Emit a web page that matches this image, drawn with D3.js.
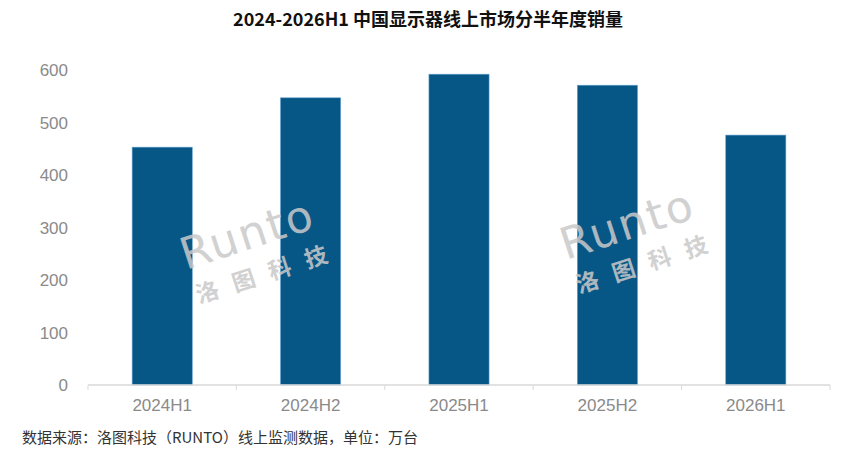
<!DOCTYPE html>
<html>
<head>
<meta charset="utf-8">
<script src="https://cdn.jsdelivr.net/npm/d3@7"></script>
<style>
  body { margin: 0; background: #fff; }
</style>
</head>
<body>
<div id="chart"></div>
<script>
// chart values
const categories = ["2024H1", "2024H2", "2025H1", "2025H2", "2026H1"];
const sales = [453, 547, 592, 571, 476];
const yTicks = [0, 100, 200, 300, 400, 500, 600];
const title = "2024-2026H1 中国显示器线上市场分半年度销量";
const source = "数据来源：洛图科技（RUNTO）线上监测数据，单位：万台";

const W = 851, H = 472;
const plot = { left: 88, right: 830, top: 70, bottom: 385 };

const svg = d3.select("#chart")
    .append("svg")
    .attr("width", W)
    .attr("height", H);

// scales
const x = d3.scaleBand()
    .domain(categories)
    .range([plot.left, plot.right])
    .paddingInner(0.595)
    .paddingOuter(0.2975);

const y = d3.scaleLinear()
    .domain([0, 600])
    .range([plot.bottom, plot.top]);

// title
svg.append("text")
    .attr("x", 428)
    .attr("y", 26)
    .attr("text-anchor", "middle")
    .style("font-family", "'Noto Sans CJK SC', 'Noto Sans', sans-serif")
    .style("font-weight", "bold")
    .style("font-size", "18px")
    .style("fill", "#111")
    .text(title);

// y labels (no axis line, no grid)
svg.append("g")
    .selectAll("text")
    .data(yTicks)
    .join("text")
    .attr("x", 68)
    .attr("y", d => y(d))
    .attr("dy", "0.36em")
    .attr("text-anchor", "end")
    .style("font-family", "'Liberation Sans', Arial, sans-serif")
    .style("font-size", "17px")
    .style("fill", "#8a8a8a")
    .text(d => d);

// bars
svg.append("g")
    .selectAll("rect")
    .data(sales)
    .join("rect")
    .attr("x", (d, i) => x(categories[i]))
    .attr("y", d => y(d))
    .attr("width", x.bandwidth())
    .attr("height", d => y(0) - y(d))
    .style("fill", "#065686")
    .style("stroke", "#5f9fcf")
    .style("stroke-width", 0.6);

// x axis: line plus ticks between categories
const xAxis = svg.append("g")
    .attr("transform", `translate(0, ${plot.bottom})`);

xAxis.append("line")
    .attr("x1", plot.left)
    .attr("x2", plot.right)
    .style("stroke", "#d9d9d9")
    .style("stroke-width", 1.5);

const bounds = d3.range(categories.length + 1).map(i => plot.left + i * x.step());
xAxis.selectAll(".tick")
    .data(bounds)
    .join("line")
    .attr("class", "tick")
    .attr("x1", d => d)
    .attr("x2", d => d)
    .attr("y1", 0)
    .attr("y2", 5)
    .style("stroke", "#d9d9d9")
    .style("stroke-width", 1);

xAxis.selectAll(".lbl")
    .data(categories)
    .join("text")
    .attr("class", "lbl")
    .attr("x", d => x(d) + x.bandwidth() / 2)
    .attr("y", 26)
    .attr("text-anchor", "middle")
    .style("font-family", "'Liberation Sans', Arial, sans-serif")
    .style("font-size", "17px")
    .style("fill", "#8a8a8a")
    .text(d => d);

// watermarks
function watermark(tx, ty) {
    const g = svg.append("g")
        .attr("transform", `translate(${tx}, ${ty}) rotate(-18)`)
        .style("fill", "#c9c9c9")
        .style("opacity", 0.85);
    g.append("text")
        .attr("x", 0)
        .attr("y", 0)
        .style("font-family", "'DejaVu Sans', sans-serif")
        .style("font-size", "44px")
        .style("letter-spacing", "2px")
        .text("Runto");
    g.append("text")
        .attr("x", 2)
        .attr("y", 36)
        .style("font-family", "'Noto Sans CJK SC', sans-serif")
        .style("font-weight", "bold")
        .style("font-size", "23px")
        .style("letter-spacing", "15px")
        .text("洛图科技");
}
watermark(186, 270);
watermark(566, 260);

// source note
svg.append("text")
    .attr("x", 22)
    .attr("y", 443)
    .style("font-family", "'Noto Sans CJK SC', sans-serif")
    .style("font-size", "15px")
    .style("fill", "#333")
    .text(source);
</script>
</body>
</html>
